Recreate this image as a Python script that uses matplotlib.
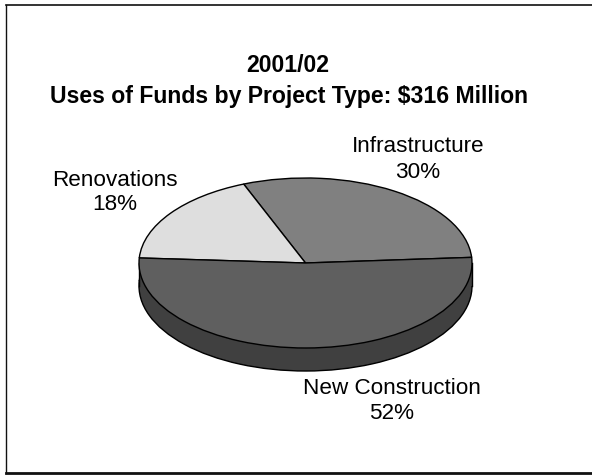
import matplotlib

matplotlib.use("Agg")
from matplotlib import pyplot as plt
from matplotlib.lines import Line2D
from matplotlib.patches import Rectangle

plt.rcParams["font.family"] = ["Liberation Sans", "DejaVu Sans"]

title_lines = ["2001/02", "Uses of Funds by Project Type: \\$316 Million"]
categories = ["Infrastructure", "Renovations", "New Construction"]
shares = [30, 18, 52]
top_colors = ["#808080", "#dedede", "#5f5f5f"]
side_colors = ["#606060", "#a6a6a6", "#404040"]

W, H = 592, 477
depth = 23 / 85.0
start_angle = 3.8

fig = plt.figure(figsize=(W / 100, H / 100), dpi=100)

# pie axes: x -1..1 over 139-472 px, y stretched so the circle turns into an ellipse
ax = fig.add_axes([139 / W, 1 - 372 / H, 333 / W, 193 / H])
edge = {"edgecolor": "black", "linewidth": 1.0}
ax.pie(shares, colors=side_colors, startangle=start_angle, center=(0, -depth),
       radius=1, wedgeprops=edge)
ax.add_patch(Rectangle((-1, -depth), 2, depth, facecolor=side_colors[2],
                       edgecolor="none", zorder=2))
ax.plot([-1, -1], [-depth, 0], color="black", lw=1.0, zorder=2.5, clip_on=False)
ax.plot([1, 1], [-depth, 0], color="black", lw=1.0, zorder=2.5, clip_on=False)
wedges, _ = ax.pie(shares, colors=top_colors, startangle=start_angle,
                   radius=1, wedgeprops=edge)
for w in wedges:
    w.set_zorder(3)
    w.set_clip_on(False)
ax.set_aspect("auto")
ax.set_xlim(-1, 1)
ax.set_ylim(-1 - depth, 1)
ax.axis("off")


def fx(px):
    return px / W


def fy(py):
    return 1 - py / H


# frame, no right side
for xs, ys, lw in [
    ((6, 6), (6, 474), 1.0),
    ((6, 592), (6, 6), 1.2),
    ((6, 592), (474, 474), 2.0),
]:
    fig.add_artist(Line2D([fx(x) for x in xs], [fy(y) for y in ys], color="#111111", lw=lw))

fig.text(fx(288), fy(65), title_lines[0], ha="center", va="center",
         fontsize=16.6, fontweight="bold")
fig.text(fx(288.5), fy(97), title_lines[1], ha="center", va="center",
         fontsize=16.6, fontweight="bold")

label_pos = [(418, 147, 172), (115, 180, 205), (392, 389, 414)]
for name, share, (x, y1, y2) in zip(categories, shares, label_pos):
    fig.text(fx(x), fy(y1), name, ha="center", va="center", fontsize=16.2)
    fig.text(fx(x), fy(y2), "%d%%" % share, ha="center", va="center", fontsize=16.2)

fig.savefig("out.png", dpi=100)
